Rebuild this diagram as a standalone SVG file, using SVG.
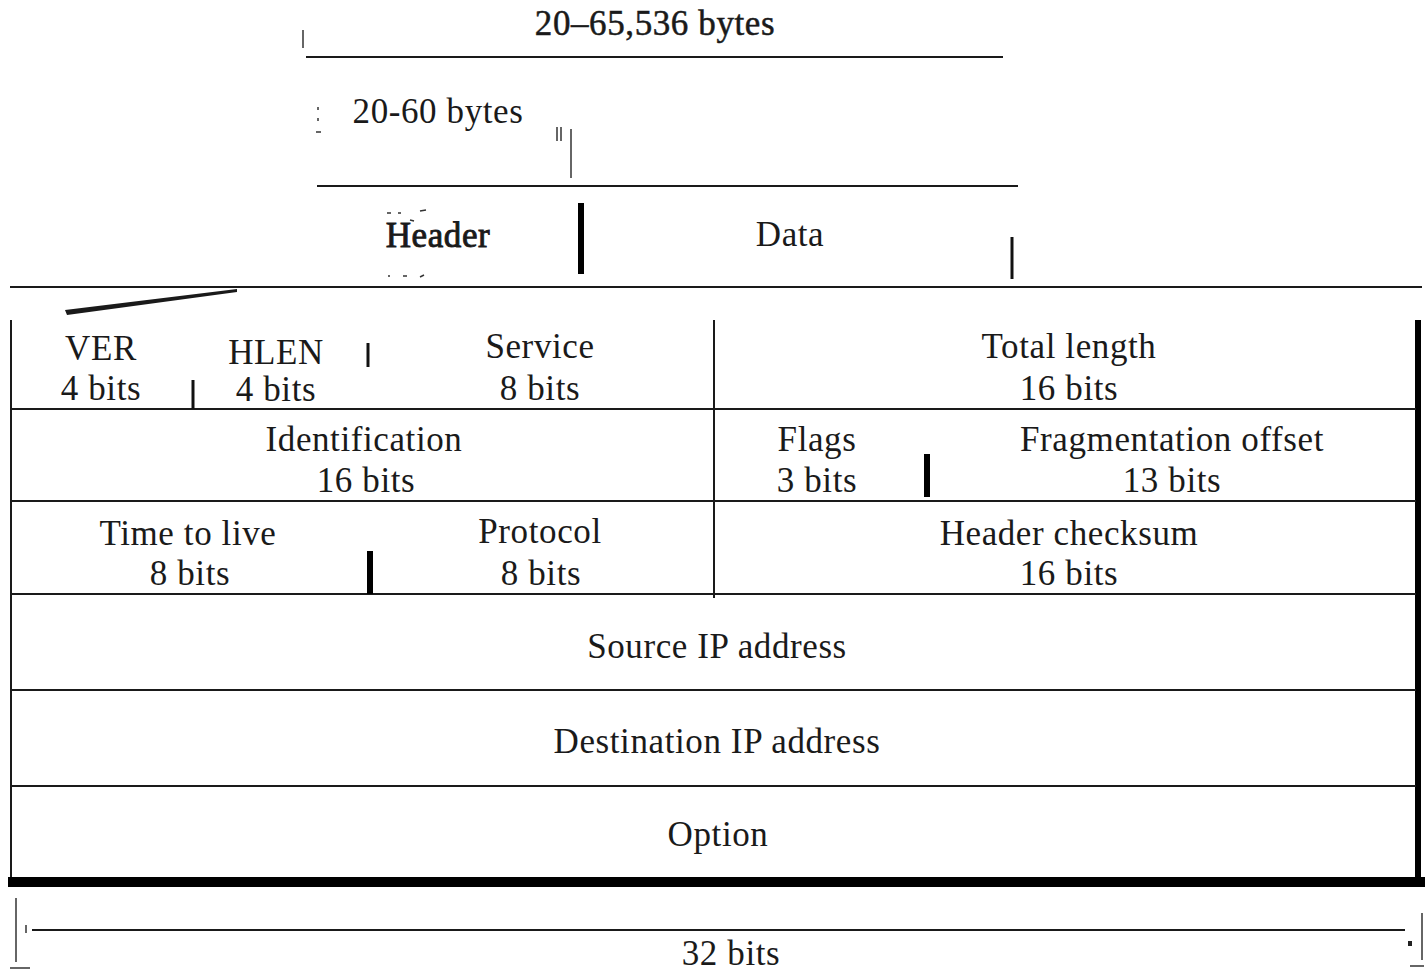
<svg xmlns="http://www.w3.org/2000/svg" width="1427" height="971" viewBox="0 0 1427 971">
  <style>
    .t { font-family: "Liberation Serif", "Times New Roman", serif; font-size: 35px; letter-spacing: 0.6px; fill: #1a1a1a; text-anchor: middle; }
    .ln { stroke: #1a1a1a; stroke-width: 2; fill: none; }
    .tk { stroke: #111; stroke-width: 3; fill: none; }
    .th { stroke: #000; stroke-width: 6; fill: none; }
    .mk { stroke: #333; stroke-width: 1.5; fill: none; }
  </style>
  <rect width="1427" height="971" fill="#fff"/>

  <!-- datagram length bracket -->
  <g id="datagram-length">
    <line class="mk" x1="303" y1="30" x2="303" y2="48" stroke-width="2.5"/>
    <text class="t" x="655" y="35" font-size="37" letter-spacing="0.3" stroke="#1a1a1a" stroke-width="0.5">20–65,536 bytes</text>
    <line class="ln" x1="306" y1="57" x2="1003" y2="57"/>
  </g>

  <!-- header length bracket -->
  <g id="header-length">
    <line class="mk" x1="318" y1="107" x2="318" y2="110"/>
    <line class="mk" x1="318" y1="118" x2="318" y2="121"/>
    <line class="mk" x1="316" y1="132" x2="321" y2="132"/>
    <text class="t" x="438" y="123" font-size="34" letter-spacing="1.3">20-60 bytes</text>
    <line class="mk" x1="557" y1="127" x2="557" y2="141"/>
    <line class="mk" x1="561" y1="127" x2="561" y2="141"/>
    <line class="mk" x1="571" y1="129" x2="571" y2="178" stroke-width="2.5"/>
    <line class="ln" x1="317" y1="186" x2="1018" y2="186"/>
  </g>

  <!-- header / data split -->
  <g id="header-block">
    <line class="mk" x1="387" y1="213" x2="391" y2="213"/>
    <line class="mk" x1="398" y1="213" x2="401" y2="213"/>
    <line class="mk" x1="420" y1="211" x2="426" y2="210"/>
    <line class="mk" x1="410" y1="220" x2="414" y2="221"/>
    <text class="t" x="438" y="247" font-size="36" letter-spacing="0" stroke="#1a1a1a" stroke-width="0.9">Header</text>
    <line class="mk" x1="388" y1="276" x2="390" y2="276"/>
    <line class="mk" x1="403" y1="276" x2="407" y2="276"/>
    <line class="mk" x1="420" y1="277" x2="424" y2="275"/>
  </g>
  <g id="data-block">
    <line class="th" x1="581" y1="203" x2="581" y2="274"/>
    <text class="t" x="790" y="246">Data</text>
    <line class="tk" x1="1012" y1="237" x2="1012" y2="279"/>
  </g>
  <line class="ln" x1="10" y1="287" x2="1422" y2="287"/>

  <!-- header field table -->
  <g id="connectors">
    <polygon points="65,310 237,289 237,292 67,315" fill="#1a1a1a"/>
  </g>

  <g id="table-frame">
    <line class="ln" x1="11" y1="320" x2="11" y2="880"/>
    <line class="th" x1="1418" y1="320" x2="1418" y2="887"/>
    <line class="ln" x1="10" y1="409" x2="1416" y2="409"/>
    <line class="ln" x1="10" y1="501" x2="1416" y2="501"/>
    <line class="ln" x1="10" y1="594" x2="1416" y2="594"/>
    <line class="ln" x1="10" y1="690" x2="1416" y2="690"/>
    <line class="ln" x1="10" y1="786" x2="1416" y2="786"/>
    <rect x="8" y="877" width="1417" height="10" fill="#000"/>
    <line class="ln" x1="714" y1="320" x2="714" y2="598"/>
  </g>

  <g id="field-ver">
    <text class="t" x="101" y="360">VER</text>
    <text class="t" x="101" y="400">4 bits</text>
    <line class="tk" x1="193" y1="380" x2="193" y2="409"/>
  </g>
  <g id="field-hlen">
    <text class="t" x="276" y="364" font-size="31">HLEN</text>
    <text class="t" x="276" y="401">4 bits</text>
    <line class="tk" x1="368" y1="343" x2="368" y2="367"/>
  </g>
  <g id="field-service">
    <text class="t" x="540" y="358">Service</text>
    <text class="t" x="540" y="400">8 bits</text>
  </g>
  <g id="field-total-length">
    <text class="t" x="1069" y="358">Total length</text>
    <text class="t" x="1069" y="400">16 bits</text>
  </g>
  <g id="field-identification">
    <text class="t" x="364" y="451">Identification</text>
    <text class="t" x="366" y="492">16 bits</text>
  </g>
  <g id="field-flags">
    <text class="t" x="817" y="451">Flags</text>
    <text class="t" x="817" y="492">3 bits</text>
    <line class="th" x1="927" y1="454" x2="927" y2="497" stroke-width="4"/>
  </g>
  <g id="field-fragment-offset">
    <text class="t" x="1172" y="451">Fragmentation offset</text>
    <text class="t" x="1172" y="492">13 bits</text>
  </g>
  <g id="field-ttl">
    <text class="t" x="188" y="545">Time to live</text>
    <text class="t" x="190" y="585">8 bits</text>
    <line class="th" x1="370" y1="551" x2="370" y2="594" stroke-width="4"/>
  </g>
  <g id="field-protocol">
    <text class="t" x="540" y="543">Protocol</text>
    <text class="t" x="541" y="585">8 bits</text>
  </g>
  <g id="field-checksum">
    <text class="t" x="1069" y="545">Header checksum</text>
    <text class="t" x="1069" y="585">16 bits</text>
  </g>
  <g id="field-source">
    <text class="t" x="717" y="658">Source IP address</text>
  </g>
  <g id="field-destination">
    <text class="t" x="717" y="753">Destination IP address</text>
  </g>
  <g id="field-option">
    <text class="t" x="718" y="846">Option</text>
  </g>

  <!-- 32-bit width scale -->
  <g id="width-scale">
    <line class="mk" x1="16" y1="898" x2="16" y2="962" stroke-width="2"/>
    <line class="mk" x1="26" y1="925" x2="26" y2="933" stroke-width="1.5"/>
    <line class="ln" x1="32" y1="930" x2="1405" y2="930"/>
    <rect x="1408" y="941" width="4" height="5" fill="#222"/>
    <line class="mk" x1="1422" y1="913" x2="1422" y2="960" stroke-width="2"/>
    <line class="mk" x1="10" y1="968" x2="30" y2="968" stroke-width="2"/>
    <line class="mk" x1="1410" y1="966" x2="1424" y2="966" stroke-width="2"/>
    <text class="t" x="731" y="965">32 bits</text>
  </g>
</svg>
